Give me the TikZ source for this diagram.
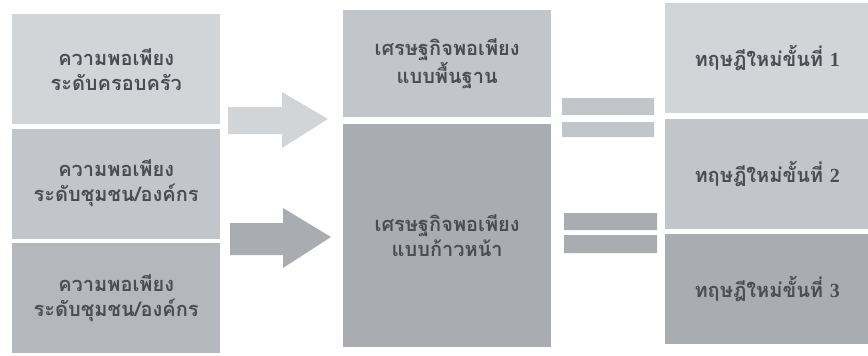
\documentclass[tikz,border=0pt]{standalone}
\usepackage{fontspec}
\newfontfamily\thaifont[Script=Thai]{Loma}
\newfontfamily\numfont{Liberation Serif}
\usetikzlibrary{positioning}
\definecolor{boxA}{HTML}{D2D5D8}
\definecolor{boxB}{HTML}{C2C5C9}
\definecolor{boxC}{HTML}{B4B7BB}
\definecolor{boxD}{HTML}{A9ACB0}
\definecolor{txtgrey}{HTML}{4A4D52}
\newcommand{\stepno}[1]{{\numfont\bfseries #1}}
\begin{document}
\begin{tikzpicture}[x=1pt,y=-1pt,node distance=4pt,
  block/.style={fill=#1,minimum width=208pt,minimum height=110pt,inner sep=0pt,
    align=center,text=txtgrey,font=\thaifont\bfseries\fontsize{20}{25}\selectfont},
  midblock/.style={block=#1,minimum width=208pt},
  rightblock/.style={block=#1,minimum width=204pt}]
  \useasboundingbox (0,0) rectangle (868,356);
  % Left column
  \node[block=boxA,anchor=north west] (fam) at (12,14) {ความพอเพียง\\ระดับครอบครัว};
  \node[block=boxB] (com) [below=of fam] {ความพอเพียง\\ระดับชุมชน/องค์กร};
  \node[block=boxC] (org) [below=of com] {ความพอเพียง\\ระดับชุมชน/องค์กร};
  % Middle column
  \node[midblock=boxB,anchor=north west,minimum height=107pt] (basic) at (343,10) {เศรษฐกิจพอเพียง\\แบบพื้นฐาน};
  \node[midblock=boxD,minimum height=223pt] (adv) [below=6pt of basic] {เศรษฐกิจพอเพียง\\แบบก้าวหน้า};
  % Right column
  \node[rightblock=boxA,anchor=north west] (t1) at (665,3) {ทฤษฎีใหม่ขั้นที่ \stepno{1}};
  \node[rightblock=boxB] (t2) [below=5pt of t1] {ทฤษฎีใหม่ขั้นที่ \stepno{2}};
  \node[rightblock=boxD] (t3) [below=5pt of t2] {ทฤษฎีใหม่ขั้นที่ \stepno{3}};
  % Arrows
  \fill[boxA] (228,107) -- (282,107) -- (282,92) -- (328,119) -- (282,148)
    -- (282,134) -- (228,134) -- cycle;
  \fill[boxD] (230,223) -- (283,223) -- (283,208) -- (331,237) -- (283,268)
    -- (283,255) -- (230,255) -- cycle;
  % Equal signs
  \fill[boxB] (562,98) rectangle (654,115) (562,122) rectangle (654,137);
  \fill[boxD] (564,213) rectangle (657,230) (564,235) rectangle (657,253);
\end{tikzpicture}
\end{document}
